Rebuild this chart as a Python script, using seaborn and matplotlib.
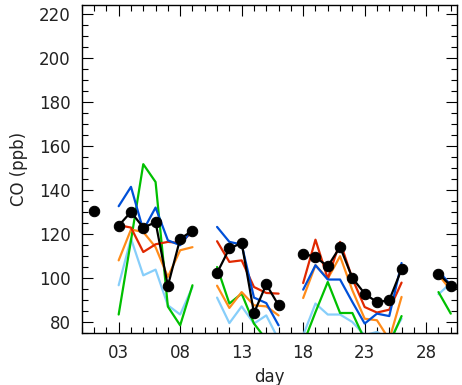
import numpy as np
import pandas as pd
import matplotlib
matplotlib.use("Agg")
import matplotlib.pyplot as plt
from matplotlib.ticker import MultipleLocator, FixedLocator
import seaborn as sns

nan = np.nan

# days of the month, 1..30
days = np.arange(1, 31)

obs = [130.4, nan, 123.8, 130.0, 122.9, 125.3, 96.4, 117.8, 121.5, nan,
       102.3, 113.4, 115.9, 84.1, 97.1, 87.6, nan, 111.1, 109.5, 105.3,
       114.1, 100.0, 92.9, 89.0, 89.9, 104.0, nan, nan, 102.0, 96.4]
blue = [nan, nan, 132.6, 141.4, 121.7, 132.0, 117.1, 114.9, 122.1, nan,
        123.2, 116.4, 115.2, 91.1, 88.6, 78.5, nan, 94.7, 105.8, 99.3,
        99.3, 89.1, 79.3, 83.8, 82.7, 106.8, nan, nan, 103.3, 96.7]
red = [nan, nan, 124.0, 122.9, 111.8, 115.3, 116.4, 115.9, 121.0, nan,
       116.7, 107.3, 108.0, 95.9, 93.2, 92.9, nan, 97.7, 117.4, 99.7,
       116.4, 99.7, 86.8, 84.3, 85.6, 97.9, nan, nan, nan, nan]
orange = [nan, nan, 108.0, 122.0, 120.9, 114.0, 100.5, 112.6, 114.0, nan,
          96.5, 86.4, 93.6, 87.6, 87.1, 83.0, nan, 90.9, 105.8, 99.7,
          109.9, 94.4, 81.5, 80.8, 72.0, 91.4, nan, nan, 101.5, 94.4]
green = [nan, nan, 83.4, 117.0, 151.7, 143.6, 87.0, 78.5, 96.7, nan,
         105.0, 88.4, 92.9, 79.3, 72.0, 70.0, nan, 70.0, 84.5, 98.2,
         84.1, 84.1, 72.0, 70.0, 70.0, 82.7, nan, nan, 93.6, 83.8]
lightblue = [nan, nan, 96.7, 117.9, 101.2, 103.8, 87.6, 83.4, 95.9, nan,
             91.1, 79.5, 87.1, 79.3, 83.0, 72.0, nan, 74.0, 88.4, 83.4,
             83.4, 80.0, 74.0, 75.5, 72.0, 81.5, nan, nan, 92.6, 97.7]

series = {"lightblue": lightblue, "green": green, "orange": orange,
          "red": red, "blue": blue}
colors = {"lightblue": "#87cefa", "green": "#00c000", "orange": "#ff8c1a",
          "red": "#e02800", "blue": "#0050d8"}


def to_long(name, vals):
    vals = np.asarray(vals, dtype=float)
    seg = np.cumsum(np.isnan(vals))  # new segment after every gap
    df = pd.DataFrame({"day": days, "co": vals, "name": name, "seg": seg})
    return df.dropna()


df = pd.concat([to_long(k, v) for k, v in series.items()], ignore_index=True)
df_obs = to_long("obs", obs)

sns.set_style("ticks")
plt.rcParams["font.family"] = ["DejaVu Sans"]

fig = plt.figure(figsize=(4.62, 3.85), dpi=100)
ax = fig.add_axes([0.177, 0.135, 0.812, 0.852])

sns.lineplot(data=df, x="day", y="co", hue="name", units="seg",
             estimator=None, palette=colors, linewidth=1.6, legend=False, ax=ax)
sns.lineplot(data=df_obs, x="day", y="co", units="seg", estimator=None,
             color="black", linewidth=1.6, marker="o", markersize=7.5,
             markeredgecolor="black", legend=False, ax=ax)

ax.set_xlim(0, 30.5)
ax.set_ylim(75, 224)
ax.xaxis.set_major_locator(FixedLocator([3, 8, 13, 18, 23, 28]))
ax.set_xticklabels(["03", "08", "13", "18", "23", "28"])
ax.xaxis.set_minor_locator(MultipleLocator(1))
ax.yaxis.set_major_locator(MultipleLocator(20))
ax.yaxis.set_minor_locator(MultipleLocator(5))
ax.tick_params(which="both", direction="in", top=True, right=True,
               labelsize=12, width=0.8, pad=8, colors="black",
               labelcolor="#222222")
ax.tick_params(which="major", length=8)
ax.tick_params(which="minor", length=4)
for s in ax.spines.values():
    s.set_linewidth(1)
    s.set_color("black")

ax.set_xlabel("day", fontsize=12, color="#222222")
ax.set_ylabel("CO (ppb)", fontsize=12, labelpad=8, color="#222222")

fig.savefig("out.png", dpi=100)
